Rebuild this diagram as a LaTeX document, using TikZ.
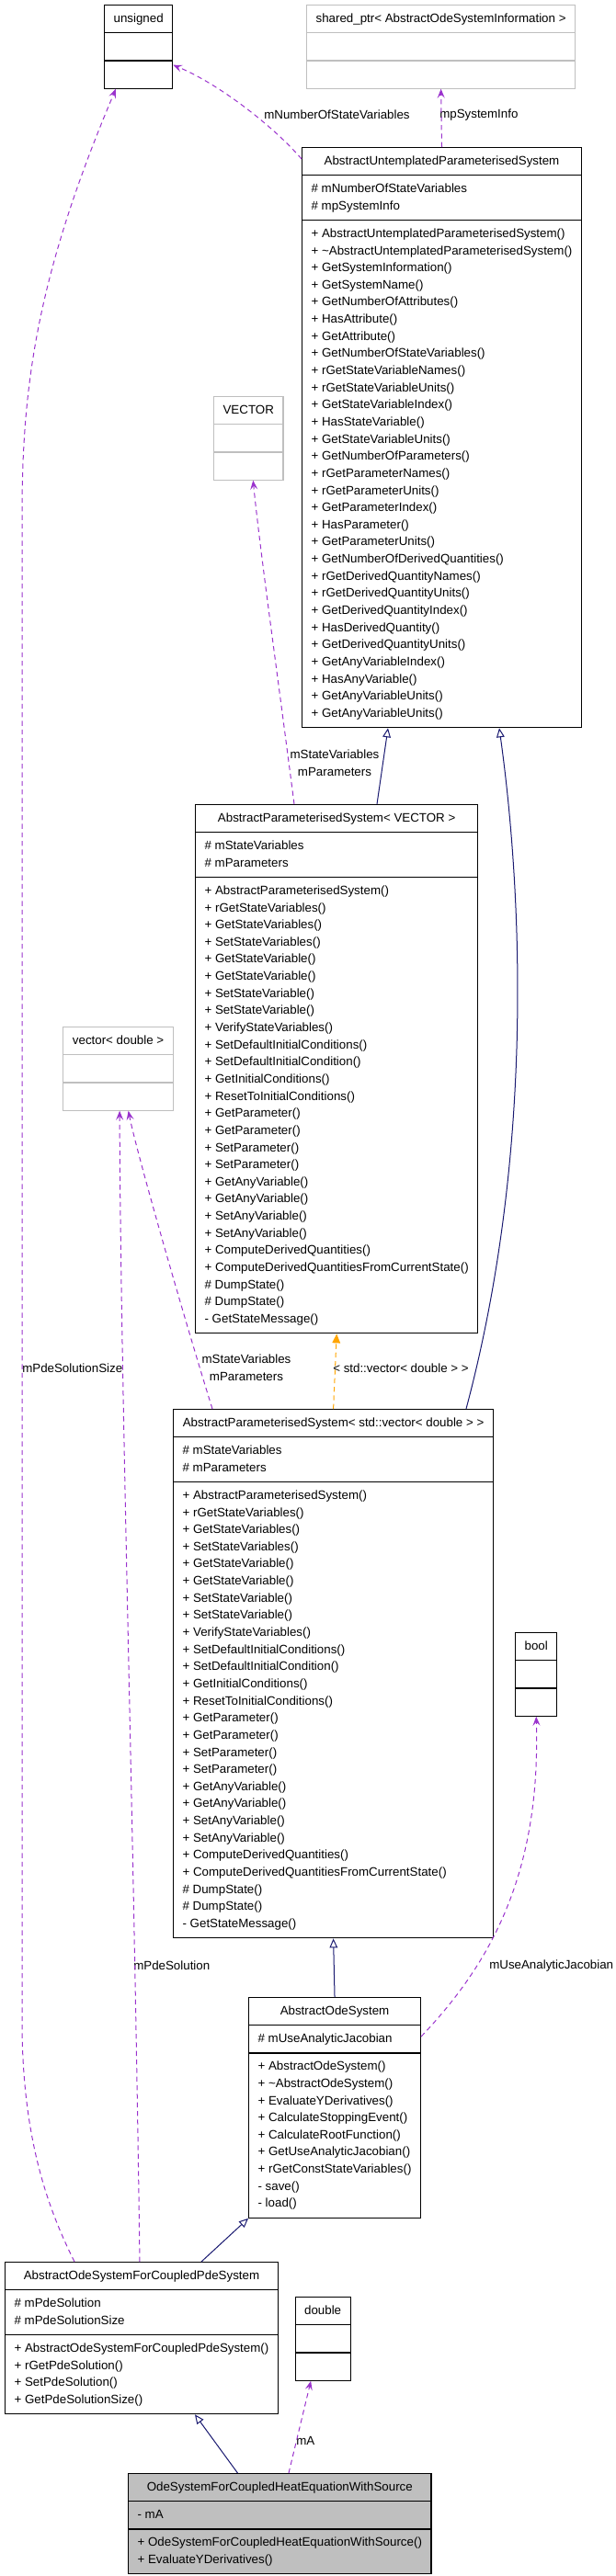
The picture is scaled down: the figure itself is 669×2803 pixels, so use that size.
\documentclass[tikz,border=0pt]{standalone}
\usepackage{fontspec}
\setmainfont{Liberation Sans}
\usetikzlibrary{shapes.multipart, arrows.meta, calc}

\definecolor{usagepurple}{HTML}{9A32CD}
\definecolor{inheritblue}{HTML}{191970}
\definecolor{templorange}{HTML}{FFA500}
\definecolor{undocgray}{HTML}{BFBFBF}

% members shared by both AbstractParameterisedSystem boxes
\newcommand{\apsattrs}{\strut\# mStateVariables\\\# mParameters\strut}
\newcommand{\apsmethods}{\strut+ AbstractParameterisedSystem()\\+ rGetStateVariables()\\+ GetStateVariables()\\+ SetStateVariables()\\+ GetStateVariable()\\+ GetStateVariable()\\+ SetStateVariable()\\+ SetStateVariable()\\+ VerifyStateVariables()\\+ SetDefaultInitialConditions()\\+ SetDefaultInitialCondition()\\+ GetInitialConditions()\\+ ResetToInitialConditions()\\+ GetParameter()\\+ GetParameter()\\+ SetParameter()\\+ SetParameter()\\+ GetAnyVariable()\\+ GetAnyVariable()\\+ SetAnyVariable()\\+ SetAnyVariable()\\+ ComputeDerivedQuantities()\\+ ComputeDerivedQuantitiesFromCurrentState()\\\# DumpState()\\\# DumpState()\\- GetStateMessage()\strut}

\begin{document}
\begin{tikzpicture}[
        x=0.75pt, y=-0.75pt,
        % Global Styles
        cls/.style={rectangle split, rectangle split parts=3, draw, line width=0.9pt, anchor=north west, inner xsep=7.5pt, inner ysep=3.875pt, rectangle split part align={center,left,left}, align=left, font=\fontsize{10}{13.98}\selectfont},
        undoc/.style={cls, draw=undocgray},
        focus/.style={cls, fill=undocgray},
        lbl/.style={inner sep=0pt, align=center, font=\fontsize{10}{13.98}\selectfont},
        usage/.style={draw=usagepurple, line width=0.75pt, dash pattern=on 4pt off 3pt, -{Stealth[length=7.5pt, width=6pt, inset=3pt]}}, % member arrow
        inherit/.style={draw=inheritblue, line width=0.75pt, -{Triangle[open, length=7.5pt, width=6.5pt, fill=white]}}, % base class
        templ/.style={draw=templorange, line width=0.75pt, dash pattern=on 4pt off 3pt, -{Triangle[length=7.5pt, width=6.5pt]}} % template instance
    ]
    \useasboundingbox (0,0) rectangle (669,2803);

    % --- Nodes ---

    % 1. Types at the top
    \node [cls, minimum width=55.5pt] (unsigned) at (113,5) {\strut unsigned\nodepart{two}\strut\nodepart{three}\strut};
    \node [undoc, minimum width=218.25pt] (shptr) at (333,5) {\strut shared\_ptr< AbstractOdeSystemInformation >\nodepart{two}\strut\nodepart{three}\strut};

    % 2. Untemplated base
    \node [cls, minimum width=225.75pt] (aups) at (328,160) {\strut AbstractUntemplatedParameterisedSystem
        \nodepart{two}\strut\# mNumberOfStateVariables\\\# mpSystemInfo\strut
        \nodepart{three}\strut+ AbstractUntemplatedParameterisedSystem()\\+ \textasciitilde AbstractUntemplatedParameterisedSystem()\\+ GetSystemInformation()\\+ GetSystemName()\\+ GetNumberOfAttributes()\\+ HasAttribute()\\+ GetAttribute()\\+ GetNumberOfStateVariables()\\+ rGetStateVariableNames()\\+ rGetStateVariableUnits()\\+ GetStateVariableIndex()\\+ HasStateVariable()\\+ GetStateVariableUnits()\\+ GetNumberOfParameters()\\+ rGetParameterNames()\\+ rGetParameterUnits()\\+ GetParameterIndex()\\+ HasParameter()\\+ GetParameterUnits()\\+ GetNumberOfDerivedQuantities()\\+ rGetDerivedQuantityNames()\\+ rGetDerivedQuantityUnits()\\+ GetDerivedQuantityIndex()\\+ HasDerivedQuantity()\\+ GetDerivedQuantityUnits()\\+ GetAnyVariableIndex()\\+ HasAnyVariable()\\+ GetAnyVariableUnits()\\+ GetAnyVariableUnits()\strut};

    % 3. Template and its instance
    \node [undoc, minimum width=54pt] (vec) at (232,431) {\strut VECTOR\nodepart{two}\strut\nodepart{three}\strut};
    \node [cls, minimum width=224.25pt] (apsv) at (212,875) {\strut AbstractParameterisedSystem< VECTOR >\nodepart{two}\apsattrs\nodepart{three}\apsmethods};
    \node [undoc, minimum width=90pt] (vecd) at (68,1117) {\strut vector< double >\nodepart{two}\strut\nodepart{three}\strut};
    \node [cls, minimum width=261pt] (apsd) at (188,1533) {\strut AbstractParameterisedSystem< std::vector< double > >\nodepart{two}\apsattrs\nodepart{three}\apsmethods};

    % 4. ODE classes
    \node [cls, minimum width=33.75pt] (boolb) at (560,1776) {\strut bool\nodepart{two}\strut\nodepart{three}\strut};
    \node [cls, minimum width=138pt] (aos) at (270,2173) {\strut AbstractOdeSystem
        \nodepart{two}\strut\# mUseAnalyticJacobian\strut
        \nodepart{three}\strut+ AbstractOdeSystem()\\+ \textasciitilde AbstractOdeSystem()\\+ EvaluateYDerivatives()\\+ CalculateStoppingEvent()\\+ CalculateRootFunction()\\+ GetUseAnalyticJacobian()\\+ rGetConstStateVariables()\\- save()\\- load()\strut};
    \node [cls, minimum width=219.75pt] (aosf) at (5,2461) {\strut AbstractOdeSystemForCoupledPdeSystem
        \nodepart{two}\strut\# mPdeSolution\\\# mPdeSolutionSize\strut
        \nodepart{three}\strut+ AbstractOdeSystemForCoupledPdeSystem()\\+ rGetPdeSolution()\\+ SetPdeSolution()\\+ GetPdeSolutionSize()\strut};
    \node [cls, minimum width=45pt] (dbl) at (320.5,2499) {\strut double\nodepart{two}\strut\nodepart{three}\strut};

    % 5. The class itself
    \node [focus, minimum width=240.75pt] (heat) at (139,2691) {\strut OdeSystemForCoupledHeatEquationWithSource
        \nodepart{two}\strut- mA\strut
        \nodepart{three}\strut+ OdeSystemForCoupledHeatEquationWithSource()\\+ EvaluateYDerivatives()\strut};

    % --- Labels ---
    \node [lbl] (l-nsv) at (366.5,125) {mNumberOfStateVariables};
    \node [lbl, anchor=west] (l-info) at (478,125) {mpSystemInfo};
    \node [lbl] (l-vec) at (364,830) {mStateVariables\\mParameters};
    \node [lbl] (l-vecd) at (268,1488) {mStateVariables\\mParameters};
    \node [lbl, anchor=west] (l-size) at (24,1489) {mPdeSolutionSize};
    \node [lbl, anchor=west] (l-templ) at (362,1489) {< std::vector< double > >};
    \node [lbl, anchor=west] (l-sol) at (145,2139) {mPdeSolution};
    \node [lbl, anchor=west] (l-jac) at (532,2139) {mUseAnalyticJacobian};
    \node [lbl, anchor=west] (l-ma) at (322,2656) {mA};

    % --- Paths ---

    % Members of the untemplated base
    \draw [usage] ($(aups.north west)+(0,13)$) .. controls (300,140) and (240,92) .. ($(unsigned.south east)+(0,-26)$);
    \draw [usage] (aups.north) -- (shptr.south);

    % Template members and bases
    \draw [usage] ($(apsv.north west)+(108,0)$) .. controls (300,720) and (283,600) .. ($(vec.south)+(5,0)$);
    \draw [inherit] ($(apsv.north west)+(198,0)$) -- ($(aups.south west)+(94,0)$);
    \draw [inherit] ($(apsd.north west)+(319,0)$) .. controls (585,1240) and (565,950) .. ($(aups.south west)+(215,0)$);
    \draw [templ] (apsd.north) -- (apsv.south);
    \draw [usage] ($(apsd.north west)+(43,0)$) .. controls (205,1450) and (150,1260) .. ($(vecd.south)+(11,0)$);

    % ODE members and bases
    \draw [inherit] (aos.north) -- (apsd.south);
    \draw [usage] ($(aos.north east)+(0,43)$) .. controls (540,2130) and (588,2030) .. (boolb.south);
    \draw [usage] ($(aosf.north)+(-2,0)$) .. controls (146,2000) and (131,1500) .. ($(vecd.south)+(1.5,0)$);
    \draw [usage] ($(aosf.north west)+(76,0)$) .. controls (54,2407) and (24,2330) .. (24,2200) -- (24,560) .. controls (24,420) and (40,300) .. ($(unsigned.south west)+(13,0)$);
    \draw [inherit] ($(aosf.north west)+(214,0)$) -- (aos.south west);

    % The class itself
    \draw [inherit] ($(heat.north west)+(119.5,0)$) -- ($(aosf.south west)+(207,0)$);
    \draw [usage] ($(heat.north west)+(175,0)$) -- ($(dbl.south)+(-13,0)$);

\end{tikzpicture}
\end{document}
